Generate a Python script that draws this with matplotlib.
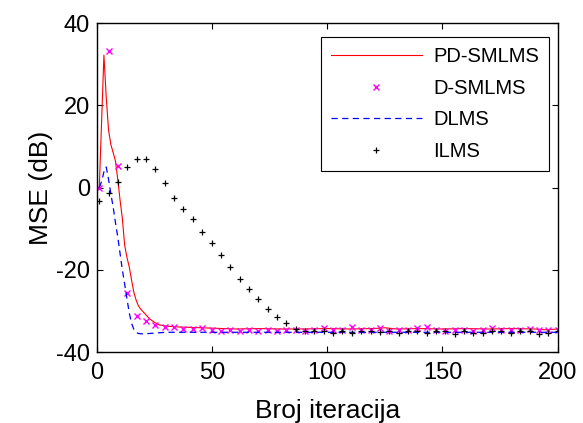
import numpy as np
import matplotlib
matplotlib.use('Agg')
from matplotlib import pyplot as plt

plt.rcParams['font.family'] = ['Liberation Sans', 'DejaVu Sans']
plt.rcParams['axes.unicode_minus'] = False

# PD-SMLMS (solid red), sampled iterations
pd_x = [1, 3, 4, 5, 6, 7, 8, 9, 10, 11, 12, 13, 14, 15, 16, 17, 18, 19, 20,
        21, 22, 23, 24, 25, 26, 27, 28, 30, 35, 40, 50, 60, 70, 80, 90, 100,
        110, 120, 125, 130, 140, 150, 160, 170, 180, 190, 195, 200]
pd_y = [0.2, 32.2, 22.0, 14.0, 10.5, 8.5, 6.5, 2.0, -3.0, -7.5, -14.0, -17.0,
        -19.3, -22.5, -25.5, -27.4, -28.8, -29.6, -30.2, -30.8, -31.4, -32.0,
        -32.4, -32.8, -33.1, -33.4, -33.5, -33.7, -33.9, -34.0, -34.2, -34.4,
        -34.3, -34.4, -34.4, -34.3, -34.4, -34.3, -34.1, -34.4, -34.3, -34.4,
        -34.3, -34.4, -34.3, -34.4, -34.6, -34.4]

# DLMS (blue dashed)
dl_x = [1, 2, 3, 4, 5, 6, 7, 8, 9, 10, 11, 12, 13, 14, 15, 16, 17, 18, 20,
        25, 30, 40, 60, 80, 100, 120, 140, 160, 180, 200]
dl_y = [0.0, 1.5, 3.8, 5.0, 2.0, -1.5, -4.7, -8.5, -12.0, -16.0, -20.0, -23.5,
        -27.0, -30.5, -33.0, -34.5, -35.2, -35.5, -35.6, -35.4, -35.2, -35.2,
        -35.2, -35.2, -35.2, -35.2, -35.2, -35.2, -35.2, -35.2]

# marker series, 50 samples each
mk_x = np.linspace(1, 200, 50)
ds_y = [0.0, 33.2, 5.3, -25.6, -31.2, -32.5, -33.4, -33.8, -33.8, -34.4,
        -34.4, -34.2, -34.7, -34.8, -34.7, -34.8, -34.7, -34.8, -34.7, -34.8,
        -34.6, -34.7, -34.8, -34.7, -34.2, -34.7, -34.6, -34.0, -34.7, -34.7,
        -34.1, -34.8, -34.7, -34.6, -34.2, -34.0, -34.7, -34.8, -34.6, -34.7,
        -34.8, -34.6, -34.2, -34.7, -34.6, -34.7, -34.3, -34.7, -34.6, -34.7]
il_y = [-3.3, -1.4, 1.4, 5.0, 6.9, 6.9, 4.4, 1.0, -2.5, -5.3, -7.7, -10.7,
        -13.6, -16.5, -19.4, -22.3, -24.7, -27.2, -29.6, -31.6, -32.9, -34.5,
        -34.9, -35.0, -34.9, -35.3, -35.0, -35.4, -35.0, -34.9, -35.2, -35.0,
        -35.3, -34.9, -35.0, -35.3, -35.0, -34.9, -35.6, -35.0, -35.4, -35.3,
        -34.9, -35.0, -35.3, -35.0, -34.9, -35.5, -35.3, -35.0]

x_ticks = [0, 50, 100, 150, 200]
y_ticks = [-40, -20, 0, 20, 40]

fig = plt.figure(figsize=(5.83, 4.23), dpi=100)
ax = fig.add_axes([0.1664, 0.1678, 0.79, 0.7778])

ax.plot(pd_x, pd_y, '-', color='red', lw=0.8, label='PD-SMLMS')
ax.plot(mk_x, ds_y, 'x', color='magenta', ms=4, mew=1.0, label='D-SMLMS')
ax.plot(dl_x, dl_y, '--', color='blue', lw=0.9, dashes=(5, 3.5), label='DLMS')
ax.plot(mk_x, il_y, '+', color='black', ms=5, mew=0.9, label='ILMS')

ax.set_xlim(0, 200)
ax.set_ylim(-40, 40)
ax.set_xticks(x_ticks)
ax.set_yticks(y_ticks)
ax.tick_params(direction='in', top=True, right=True, labelsize=17, length=4,
               width=0.8)
ax.tick_params(axis='x', pad=7)
ax.tick_params(axis='y', pad=5)
for s in ax.spines.values():
    s.set_linewidth(1.0)

ax.set_xlabel('Broj iteracija', fontsize=19, labelpad=11)
ax.set_ylabel('MSE (dB)', fontsize=19, labelpad=2)

leg = ax.legend(loc='upper right', bbox_to_anchor=(0.981, 0.957), fontsize=14.5,
                handlelength=4.5, labelspacing=0.62, borderpad=0.5,
                handletextpad=0.55, fancybox=False, framealpha=1,
                edgecolor='black', borderaxespad=0)
leg.get_frame().set_linewidth(0.8)

fig.savefig('out.png', dpi=100)
